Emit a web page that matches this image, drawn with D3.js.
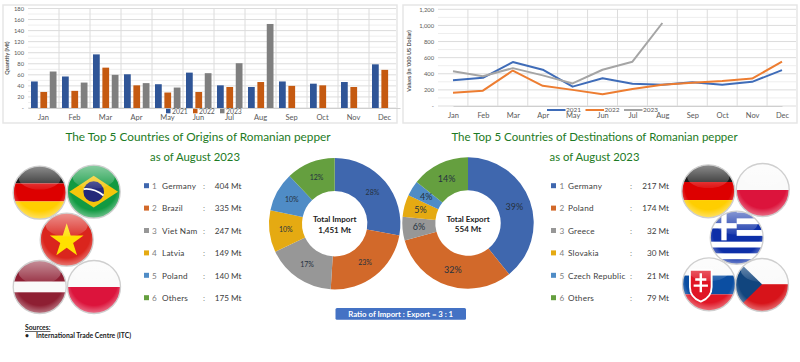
<!DOCTYPE html>
<html lang="en">
<head>
<meta charset="UTF-8">
<title>Romanian pepper trade, August 2023</title>
<script src="https://d3js.org/d3.v7.min.js"></script>
<style>
    html, body { margin: 0; padding: 0; background: #fff; overflow: hidden; }
    svg { display: block; font-family: Lato, "Open Sans", sans-serif; }
    .tick text { fill: #595959; font-family: Lato, "Open Sans", sans-serif; }
    .grid line { stroke: #dcdcdc; stroke-width: 1; }
    .grid-minor line { stroke: #eeeeee; stroke-width: 1; }
</style>
</head>
<body>
<svg id="chart" width="800" height="362"></svg>
<script>
const months = ["Jan", "Feb", "Mar", "Apr", "May", "Jun", "Jul", "Aug", "Sep", "Oct", "Nov", "Dec"];
const years = ["2021", "2022", "2023"];

const qty2021 = [48, 57, 97, 61, 43, 64, 41, 38, 48, 44, 47, 79];
const qty2022 = [29, 31, 73, 41, 28, 29, 38, 47, 40, 41, 38, 69];
const qty2023 = [66, 46, 60, 45, 37, 63, 81, 152];

const val2021 = [320, 350, 545, 450, 240, 345, 275, 265, 295, 265, 300, 445];
const val2022 = [165, 190, 440, 250, 200, 145, 210, 265, 290, 310, 340, 550];
const val2023 = [430, 370, 470, 380, 280, 450, 550, 1030];

const importNames = ["Germany", "Brazil", "Viet Nam", "Latvia", "Poland", "Others"];
const importValues = [404, 335, 247, 149, 140, 175];
const importPct = ["28%", "23%", "17%", "10%", "10%", "12%"];

const exportNames = ["Germany", "Poland", "Greece", "Slovakia", "Czech Republic", "Others"];
const exportValues = [217, 174, 32, 30, 21, 79];
const exportPct = ["39%", "32%", "6%", "5%", "4%", "14%"];

const barColors = ["#2f5597", "#c55a11", "#7f7f7f"];
const lineColors = ["#3f6cb8", "#ed7d31", "#a5a5a5"];
const pieColors = ["#3f67ae", "#d2692a", "#979797", "#e5aa12", "#4f8cc6", "#659f3f"];
const titleGreen = "#1c7a24";

const svg = d3.select("#chart");
const defs = svg.append("defs");

function frame(x, y, w, h) {
    svg.append("rect").attr("x", x).attr("y", y).attr("width", w).attr("height", h)
        .attr("fill", "#fff").attr("stroke", "#e6e6e6").attr("stroke-width", 1.5);
}

function grid(x, y, left, right, majors, minors, bands) {
    const g = svg.append("g");
    g.append("g").attr("class", "grid-minor").selectAll("line").data(minors).enter().append("line")
        .attr("x1", left).attr("x2", right).attr("y1", d => y(d)).attr("y2", d => y(d));
    g.append("g").attr("class", "grid").selectAll("line").data(majors).enter().append("line")
        .attr("x1", left).attr("x2", right).attr("y1", d => y(d)).attr("y2", d => y(d));
    g.append("g").attr("class", "grid").selectAll("line").data(bands).enter().append("line")
        .attr("x1", d => x(d)).attr("x2", d => x(d))
        .attr("y1", y.range()[1]).attr("y2", y.range()[0]);
}

function axes(x, y, left, bottom, tickValues, fmt, padding) {
    const ax = svg.append("g").attr("transform", `translate(${left},0)`)
        .call(d3.axisLeft(y).tickValues(tickValues).tickSize(0).tickPadding(4).tickFormat(fmt));
    ax.select(".domain").remove();
    ax.selectAll("text").attr("font-size", 5.8);
    const bx = svg.append("g").attr("transform", `translate(0,${bottom})`)
        .call(d3.axisBottom(x).tickSize(0).tickPadding(padding));
    bx.select(".domain").attr("stroke", "#cfcfcf");
    bx.selectAll("text").attr("font-size", 7.5);
}

// ---- bar chart
frame(3, 5, 394, 118);
const bx = d3.scaleBand().domain(months).range([28, 400]);
const by = d3.scaleLinear().domain([0, 180]).range([108, 8.5]);
const bx1 = d3.scaleBand().domain(years).range([3, 28.5]).paddingInner(0.28);

grid(bx, by, 28, 396, d3.range(0, 181, 20), d3.range(10, 180, 20), months.slice(1));
axes(bx, by, 28, 108, d3.range(0, 181, 20), d => d === 0 ? "-" : d, 6.5);

[qty2021, qty2022, qty2023].forEach((series, i) => {
    svg.append("g").selectAll("rect").data(series).enter().append("rect")
        .attr("x", (d, j) => bx(months[j]) + bx1(years[i]))
        .attr("width", bx1.bandwidth())
        .attr("y", d => by(d))
        .attr("height", d => by(0) - by(d))
        .attr("fill", barColors[i]);
});

const barLegendX = d3.scalePoint().domain(years).range([166, 220]);
years.forEach((yr, i) => {
    svg.append("rect").attr("x", barLegendX(yr)).attr("y", 108.8).attr("width", 4.5).attr("height", 4.5)
        .attr("fill", barColors[i]);
    svg.append("text").attr("x", barLegendX(yr) + 6).attr("y", 113.5).attr("font-size", 6.8).attr("fill", "#595959").text(yr);
});
svg.append("text").attr("transform", "translate(9,58) rotate(-90)").attr("text-anchor", "middle")
    .attr("font-size", 5.5).attr("font-weight", 700).attr("fill", "#595959").text("Quantity (Mt)");

// ---- line chart
frame(403, 5, 394, 118);
const lx = d3.scalePoint().domain(months).range([453, 782]).padding(0);
const ly = d3.scaleLinear().domain([0, 1200]).range([106, 9.3]);
const lineBands = d3.range(1, 12);
const lb = d3.scaleLinear().domain([0, 12]).range([438, 797]);

grid(lb, ly, 438, 796, d3.range(0, 1201, 200), d3.range(100, 1200, 200), lineBands);
axes(lx, ly, 438, 106, d3.range(0, 1201, 200), d => d === 0 ? "-" : d3.format(",")(d), 7);

const line = d3.line().x((d, j) => lx(months[j])).y(d => ly(d));
[val2021, val2022, val2023].forEach((series, i) => {
    svg.append("path").datum(series).attr("fill", "none").attr("d", line)
        .attr("stroke", lineColors[i]).attr("stroke-width", 2).attr("stroke-linejoin", "round");
});

const lineLegendX = d3.scalePoint().domain(years).range([547, 624]);
years.forEach((yr, i) => {
    svg.append("line").attr("x1", lineLegendX(yr)).attr("x2", lineLegendX(yr) + 18.5).attr("y1", 110).attr("y2", 110)
        .attr("stroke", lineColors[i]).attr("stroke-width", 2);
    svg.append("text").attr("x", lineLegendX(yr) + 19).attr("y", 112).attr("font-size", 6.5).attr("fill", "#595959").text(yr);
});
svg.append("text").attr("transform", "translate(411,61) rotate(-90)").attr("text-anchor", "middle")
    .attr("font-size", 5.5).attr("font-weight", 700).attr("fill", "#595959").text("Values (in '000 US Dollar)");

// ---- titles
function title(str, cx, y, size) {
    svg.append("text").attr("x", cx).attr("y", y).attr("text-anchor", "middle")
        .attr("font-size", size).attr("fill", titleGreen).text(str);
}
title("The Top 5 Countries of Origins of Romanian pepper", 198, 140.5, 11.8);
title("as of August 2023", 195, 161, 11.3);
title("The Top 5 Countries of Destinations of Romanian pepper", 594.5, 140.5, 11.5);
title("as of August 2023", 594.5, 161, 11.3);

// ---- country lists
const rowY = d3.scalePoint().domain(d3.range(6)).range([186, 298]);

function countryList(names, values, o) {
    names.forEach((name, i) => {
        const y = rowY(i);
        const g = svg.append("g").attr("font-size", 8.2).attr("fill", "#404040");
        g.append("rect").attr("x", o.square).attr("y", y - 2.8).attr("width", 5).attr("height", 5).attr("fill", pieColors[i]);
        g.append("text").attr("x", o.num).attr("y", y + 3).attr("fill", "#7f7f7f").text(i + 1);
        g.append("text").attr("x", o.name).attr("y", y + 3).attr("letter-spacing", 0.2).text(name);
        g.append("text").attr("x", o.colon).attr("y", y + 3).attr("fill", "#7f7f7f").text(":");
        g.append("text").attr("x", o.value).attr("y", y + 3).attr("text-anchor", "end").text(values[i] + " Mt");
    });
}
countryList(importNames, importValues, { square: 144, num: 152, name: 162, colon: 203, value: 241.5 });
countryList(exportNames, exportValues, { square: 551, num: 559.5, name: 568, colon: 630, value: 669 });

// ---- donuts
function donut(values, pct, cx, cy, fontSize, lines) {
    const pie = d3.pie().sort(null)(values);
    const arc = d3.arc().innerRadius(32.7).outerRadius(65.7);
    const g = svg.append("g").attr("transform", `translate(${cx},${cy})`);
    g.selectAll("path").data(pie).enter().append("path")
        .attr("d", arc).attr("fill", (d, i) => pieColors[i]);
    g.selectAll("text.pct").data(pie).enter().append("text").attr("class", "pct")
        .attr("transform", d => `translate(${arc.centroid(d)})`)
        .attr("text-anchor", "middle").attr("dy", "0.35em")
        .attr("font-size", fontSize).attr("fill", "#26323f")
        .text((d, i) => pct[i]);
    g.append("text").attr("text-anchor", "middle").attr("y", -1.5).attr("font-size", 8)
        .attr("font-weight", 700).attr("fill", "#222").text(lines[0]);
    g.append("text").attr("text-anchor", "middle").attr("y", 9).attr("font-size", 8)
        .attr("font-weight", 700).attr("fill", "#222").text(lines[1]);
}
donut(importValues, importPct, 334.7, 223.7, 7, ["Total Import", "1,451 Mt"]);
donut(exportValues, exportPct, 468, 223, 9, ["Total Export", "554 Mt"]);

svg.append("rect").attr("x", 335.5).attr("y", 308).attr("width", 130.5).attr("height", 11.7).attr("rx", 1.5).attr("fill", "#4472c4");
svg.append("text").attr("x", 400.7).attr("y", 316.5).attr("text-anchor", "middle").attr("font-size", 7.8)
    .attr("font-weight", 700).attr("fill", "#fff").text("Ratio of Import : Export = 3 : 1");

// ---- sources
svg.append("text").attr("x", 25).attr("y", 330).attr("font-size", 6.8).attr("font-weight", 700)
    .attr("text-decoration", "underline").attr("fill", "#222").text("Sources:");
svg.append("text").attr("x", 25).attr("y", 338).attr("font-size", 6.8).attr("font-weight", 700).attr("fill", "#222").text("•");
svg.append("text").attr("x", 36).attr("y", 338).attr("font-size", 6.8).attr("font-weight", 700).attr("fill", "#222")
    .text("International Trade Centre (ITC)");

// ---- flags: glossy spheres, drawn in a -1..1 box and scaled
const gloss = defs.append("linearGradient").attr("id", "gloss").attr("x1", 0).attr("x2", 0).attr("y1", 0).attr("y2", 1);
gloss.append("stop").attr("offset", 0).attr("stop-color", "#fff").attr("stop-opacity", 0.5);
gloss.append("stop").attr("offset", 1).attr("stop-color", "#fff").attr("stop-opacity", 0.08);
const glow = defs.append("radialGradient").attr("id", "glow").attr("cx", 0.5).attr("cy", 0.4).attr("r", 0.62);
glow.append("stop").attr("offset", 0.72).attr("stop-color", "#fff").attr("stop-opacity", 0);
glow.append("stop").attr("offset", 1).attr("stop-color", "#fff").attr("stop-opacity", 0.45);
defs.append("clipPath").attr("id", "ball").append("circle").attr("r", 1);

const stripes = (g, rows) => rows.forEach(r => {
    g.append("rect").attr("x", -1).attr("width", 2).attr("y", r[0]).attr("height", r[1] - r[0]).attr("fill", r[2]);
});

const flagArt = {
    germany: g => stripes(g, [[-1, -0.35, "#1a1a1a"], [-0.35, 0.33, "#dd0000"], [0.33, 1, "#ffce00"]]),
    poland: g => stripes(g, [[-1, 0, "#fafafa"], [0, 1, "#dc143c"]]),
    latvia: g => stripes(g, [[-1, -0.2, "#8e1f33"], [-0.2, 0.2, "#fafafa"], [0.2, 1, "#8e1f33"]]),
    brazil: g => {
        stripes(g, [[-1, 1, "#119a42"]]);
        g.append("path").attr("d", "M-0.92,0 L0,-0.6 L0.92,0 L0,0.6Z").attr("fill", "#f4c60c");
        g.append("circle").attr("r", 0.39).attr("fill", "#23297a");
        g.append("path").attr("d", "M-0.38,-0.1 Q0,-0.15 0.37,0.14").attr("fill", "none").attr("stroke", "#fff").attr("stroke-width", 0.07);
    },
    vietnam: g => {
        stripes(g, [[-1, 1, "#da251d"]]);
        g.append("path").attr("d", d3.symbol().type(d3.symbolStar).size(0.5)()).attr("transform", "translate(0,0.05)").attr("fill", "#ffe000");
    },
    greece: g => {
        stripes(g, [[-1, 1, "#fff"]]);
        d3.range(0, 5).forEach(i => stripes(g, [[-0.95 + i * 0.44, -0.73 + i * 0.44, "#0d2fa8"]]));
        g.append("rect").attr("x", -1).attr("y", -1).attr("width", 1).attr("height", 1.1).attr("fill", "#0d2fa8");
        g.append("rect").attr("x", -0.58).attr("y", -1).attr("width", 0.2).attr("height", 1.1).attr("fill", "#fff");
        g.append("rect").attr("x", -1).attr("y", -0.55).attr("width", 1).attr("height", 0.2).attr("fill", "#fff");
    },
    slovakia: g => {
        stripes(g, [[-1, -0.33, "#fafafa"], [-0.33, 0.38, "#0b4ea2"], [0.38, 1, "#e01525"]]);
        g.append("path").attr("d", "M-0.72,-0.55 H0.1 V0.1 Q0.1,0.5 -0.31,0.65 Q-0.72,0.5 -0.72,0.1Z")
            .attr("fill", "#e01525").attr("stroke", "#fff").attr("stroke-width", 0.07);
        g.append("path").attr("d", "M-0.31,-0.42 V0.3 M-0.52,-0.18 H-0.1 M-0.58,0.05 H-0.04")
            .attr("stroke", "#fff").attr("stroke-width", 0.09).attr("fill", "none");
    },
    czech: g => {
        stripes(g, [[-1, -0.03, "#fafafa"], [-0.03, 1, "#d7141a"]]);
        g.append("path").attr("d", "M-1,-1 L0,-0.03 L-1,0.95Z").attr("fill", "#11457e");
    }
};

const flagRows = [
    ["germany", 39.7, 192.7], ["brazil", 93.7, 191.7], ["vietnam", 66.7, 239.7], ["latvia", 39.7, 287], ["poland", 94, 287],
    ["germany", 708.3, 191.3], ["poland", 762.7, 190], ["greece", 736.7, 237.7], ["slovakia", 709, 284.3], ["czech", 762, 285]
];

flagRows.forEach(([name, fx, fy]) => {
    const g = svg.append("g").attr("transform", `translate(${fx},${fy}) scale(26.5)`);
    const art = g.append("g").attr("clip-path", "url(#ball)");
    flagArt[name](art);
    art.append("circle").attr("r", 1).attr("fill", "url(#glow)");
    art.append("ellipse").attr("cy", -0.56).attr("rx", 0.8).attr("ry", 0.44).attr("fill", "url(#gloss)");
    g.append("circle").attr("r", 1).attr("fill", "none").attr("stroke", "#cfcfcf").attr("stroke-width", 0.05);
});
</script>
</body>
</html>
